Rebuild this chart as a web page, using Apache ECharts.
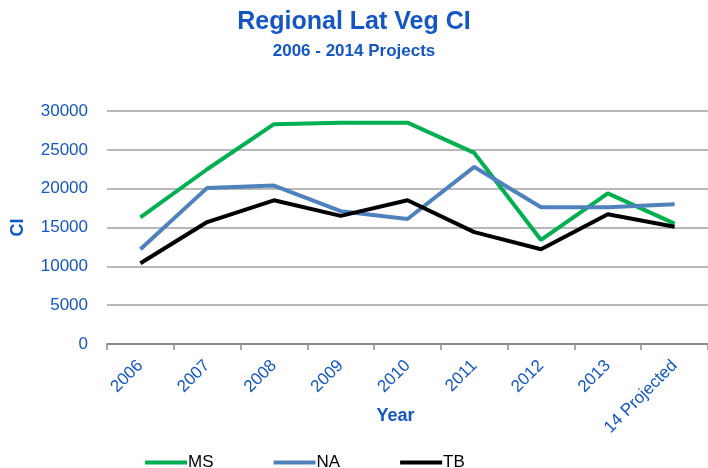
<!DOCTYPE html>
<html><head><meta charset="utf-8">
<script src="https://cdn.jsdelivr.net/npm/echarts@6/dist/echarts.min.js"></script>
<style>html,body{margin:0;padding:0;background:#fff}#c{width:708px;height:468px}</style>
</head><body><div id="c"></div>
<script>
var categories = ['2006','2007','2008','2009','2010','2011','2012','2013','14 Projected'];
var msValues = [16300, 22500, 28300, 28500, 28500, 24600, 13400, 19400, 15500];
var naValues = [12200, 20100, 20400, 17100, 16100, 22800, 17600, 17600, 18000];
var tbValues = [10400, 15700, 18500, 16500, 18500, 14400, 12200, 16700, 15100];
var yTicks = [0, 5000, 10000, 15000, 20000, 25000, 30000];

var blue = '#1456C4';
var font = 'Liberation Sans';
var chart = echarts.init(document.getElementById('c'));
function mk(name, data, color) {
  return {name: name, type: 'line', data: data, symbol: 'none',
    lineStyle: {color: color, width: 4}, itemStyle: {color: color}};
}
chart.setOption({
  animation: false,
  textStyle: {fontFamily: font},
  title: [
    {text: 'Regional Lat Veg CI', left: 'center', top: 5,
     textStyle: {color: blue, fontSize: 25, fontWeight: 'bold', fontFamily: font}},
    {text: '2006 - 2014 Projects', left: 'center', top: 38,
     textStyle: {color: blue, fontSize: 17, fontWeight: 'bold', fontFamily: font}}
  ],
  legend: {
    left: 140, top: 449, itemWidth: 42, itemHeight: 4, itemGap: 60,
    icon: 'rect',
    textStyle: {color: '#000', fontSize: 17, fontFamily: font, padding: [0,0,0,-4]},
    data: ['MS', 'NA', 'TB']
  },
  grid: {left: 107, right: -5, top: 111, bottom: 124, containLabel: false},
  xAxis: {
    type: 'category', data: categories, boundaryGap: true,
    name: 'Year', nameLocation: 'middle', nameGap: 63, nameMoveOverlap: false,
    nameTextStyle: {color: blue, fontSize: 18, fontWeight: 'bold', fontFamily: font, padding: [0, 24, 0, 0]},
    axisLine: {lineStyle: {color: '#8C8C8C', width: 2}},
    axisTick: {show: true, alignWithLabel: false, length: 6, lineStyle: {color: '#8C8C8C', width: 1.5}},
    axisLabel: {rotate: 45, color: blue, fontSize: 17, fontFamily: font, margin: 19, interval: 0}
  },
  yAxis: {
    type: 'value', min: yTicks[0], max: yTicks[yTicks.length-1], interval: 5000,
    name: 'CI', nameLocation: 'middle', nameGap: 80, nameRotate: 90, nameMoveOverlap: false,
    nameTextStyle: {color: blue, fontSize: 18, fontWeight: 'bold', fontFamily: font},
    axisLine: {show: false}, axisTick: {show: false},
    axisLabel: {color: blue, fontSize: 17, fontFamily: font, margin: 19,
      formatter: function (v) { return String(v); }},
    splitLine: {lineStyle: {color: '#A0A0A0', width: 1.5}}
  },
  series: [mk('MS', msValues, '#00B050'), mk('NA', naValues, '#4F81BD'), mk('TB', tbValues, '#000000')]
});
</script></body></html>
